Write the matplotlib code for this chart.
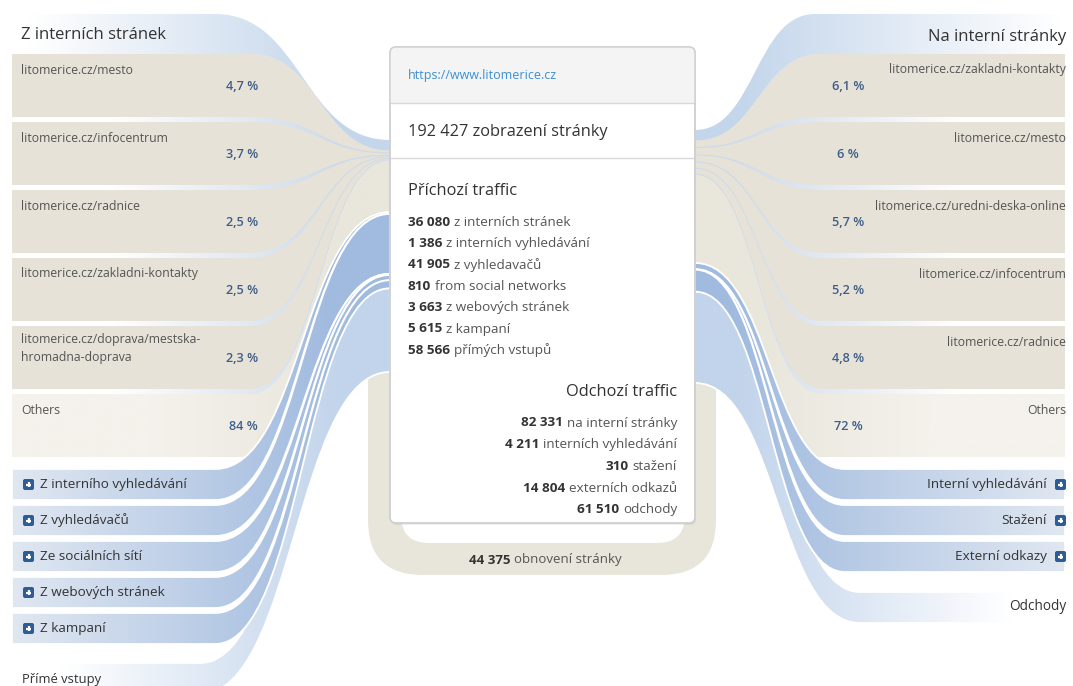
import numpy as np
import matplotlib
matplotlib.use('Agg')
import matplotlib.pyplot as plt
from matplotlib.path import Path
from matplotlib.patches import PathPatch, FancyBboxPatch, Rectangle
from matplotlib.colors import to_rgb

plt.rcParams['font.family'] = ['Open Sans', 'DejaVu Sans']

# --- data -------------------------------------------------------------
page_url = 'https://www.litomerice.cz'
pageviews = 192427
refreshes = 44375

left_pages = ['litomerice.cz/mesto', 'litomerice.cz/infocentrum', 'litomerice.cz/radnice',
              'litomerice.cz/zakladni-kontakty', 'litomerice.cz/doprava/mestska-\nhromadna-doprava',
              'Others']
left_pct = [4.7, 3.7, 2.5, 2.5, 2.3, 84]

right_pages = ['litomerice.cz/zakladni-kontakty', 'litomerice.cz/mesto',
               'litomerice.cz/uredni-deska-online', 'litomerice.cz/infocentrum',
               'litomerice.cz/radnice', 'Others']
right_pct = [6.1, 6, 5.7, 5.2, 4.8, 72]

in_labels = ['Z interního vyhledávání', 'Z vyhledávačů', 'Ze sociálních sítí',
             'Z webových stránek', 'Z kampaní', 'Přímé vstupy']
in_counts = [1386, 41905, 810, 3663, 5615, 58566]
internal_in = 36080

out_labels = ['Interní vyhledávání', 'Stažení', 'Externí odkazy', 'Odchody']
out_counts = [4211, 310, 14804, 61510]
internal_out = 82331

in_text = ['z interních stránek', 'z interních vyhledávání', 'z vyhledavačů',
           'from social networks', 'z webových stránek', 'z kampaní', 'přímých vstupů']
out_text = ['na interní stránky', 'interních vyhledávání', 'stažení',
            'externích odkazů', 'odchody']

# --- colours ----------------------------------------------------------
BEIGE = '#e6e2d7'
BEIGE_LIGHT = '#f4f2ec'
BLUE_LIGHT = '#e0e7f1'
BLUE_DARK = '#a1bbdf'
BLUE_PALE = '#c2d4eb'
SEP_BLUE = '#cddaea'
PCT_COLOR = '#3d5d8a'

fig = plt.figure(figsize=(10.73, 6.86), dpi=100)
ax = fig.add_axes([0, 0, 1, 1])
ax.set_xlim(0, 1073)
ax.set_ylim(686, 0)
ax.axis('off')
renderer = fig.canvas.get_renderer()

M, L, C, Z = Path.MOVETO, Path.LINETO, Path.CURVE4, Path.CLOSEPOLY


def band(x_flat, xa_top, ya_top, xa_bot, ya_bot, xb, yb_top, yb_bot, k=0.5):
    dt = xb - xa_top
    db = xb - xa_bot
    verts = [(x_flat, ya_top), (xa_top, ya_top),
             (xa_top + k * dt, ya_top), (xb - k * dt, yb_top), (xb, yb_top),
             (xb, yb_bot),
             (xb - k * db, yb_bot), (xa_bot + k * db, ya_bot), (xa_bot, ya_bot),
             (x_flat, ya_bot), (x_flat, ya_top)]
    codes = [M, L, C, C, C, L, C, C, C, L, Z]
    return Path(verts, codes)


def grad_fill(path, gx0, gx1, c0, c1, z, outline=None):
    patch = PathPatch(path, facecolor='none', edgecolor='none', zorder=z)
    ax.add_patch(patch)
    ext = path.get_extents()
    xs = np.linspace(ext.x0, ext.x1, 400)
    t = np.clip((xs - gx0) / (gx1 - gx0), 0, 1)[:, None]
    rgb = (1 - t) * np.array(to_rgb(c0)) + t * np.array(to_rgb(c1))
    img = ax.imshow(rgb[None, :, :], extent=(ext.x0, ext.x1, ext.y1, ext.y0),
                    aspect='auto', interpolation='bilinear', zorder=z)
    img.set_clip_path(patch)
    if outline:
        ax.add_patch(PathPatch(path, facecolor='none', edgecolor=outline, lw=1.3, zorder=z + 0.01))


def stack(values, y0, y1):
    v = np.asarray(values, float)
    return y0 + np.concatenate([[0], np.cumsum(v)]) / v.sum() * (y1 - y0)


def fmt(n):
    return f'{n:,}'.replace(',', ' ')


def pct(v):
    return f'{v:g}'.replace('.', ',') + ' %'


def px(disp_x):
    return ax.transData.inverted().transform((disp_x, 0))[0]


def num_text(x, y, num, rest, size, ha='left', z=7):
    gap = 0.27 * size * 100 / 72
    if ha == 'left':
        t1 = ax.text(x, y, fmt(num), fontsize=size, fontweight='bold', color='#333333',
                     ha='left', va='center', zorder=z)
        x1 = px(t1.get_window_extent(renderer).x1)
        ax.text(x1 + gap, y, rest, fontsize=size, color='#555555', ha='left', va='center', zorder=z)
    elif ha == 'right':
        t2 = ax.text(x, y, rest, fontsize=size, color='#555555', ha='right', va='center', zorder=z)
        x0 = px(t2.get_window_extent(renderer).x0)
        ax.text(x0 - gap, y, fmt(num), fontsize=size, fontweight='bold', color='#333333',
                ha='right', va='center', zorder=z)
    else:
        t1 = ax.text(0, y, fmt(num), fontsize=size, fontweight='bold', color='#333333',
                     ha='left', va='center', zorder=z)
        t2 = ax.text(0, y, rest, fontsize=size, color='#555555', ha='left', va='center', zorder=z)
        w1 = t1.get_window_extent(renderer).width
        w2 = t2.get_window_extent(renderer).width
        start = x - (w1 + gap + w2) / 2
        t1.set_x(start)
        t2.set_x(start + w1 + gap)


def icon(x, y):
    ax.add_patch(FancyBboxPatch((x, y - 5.5), 11, 11, boxstyle='round,pad=0,rounding_size=2',
                                fc='#2e5d96', ec='none', zorder=7))
    ax.plot([x + 2.7, x + 8.3], [y, y], color='white', lw=1.6, zorder=8, solid_capstyle='butt')
    ax.plot([x + 5.5, x + 5.5], [y - 2.8, y + 2.8], color='white', lw=1.6, zorder=8,
            solid_capstyle='butt')


# --- geometry ---------------------------------------------------------
BX0, BY0, BX1, BY1 = 390, 47, 695, 523
beige_tops = 54 + 68 * np.arange(6)
beige_h = 63
blue_tops = 469 + 36 * np.arange(5)
blue_h = 31

# --- refresh loop -----------------------------------------------------
ax.add_patch(FancyBboxPatch((368, 330), 348, 245, boxstyle='round,pad=0,rounding_size=55',
                            fc='#e8e5db', ec='none', zorder=1))
ax.add_patch(FancyBboxPatch((401, 380), 284, 163, boxstyle='round,pad=0,rounding_size=28',
                            fc='white', ec='none', zorder=1.1))
num_text(545, 560, refreshes, 'obnovení stránky', 9.5, ha='center')

# --- left side: internal pages ---------------------------------------
le = stack(left_pct, 150, 212)
env = band(12, 250, beige_tops[0], 250, beige_tops[-1] + beige_h, BX0, le[0], le[-1])
grad_fill(env, 110, 340, '#ffffff', SEP_BLUE, 1.5)
title_band = band(12, 215, 14, 250, beige_tops[0], BX0, 140, le[0] + 0.5)
grad_fill(title_band, 30, 340, '#ffffff', '#c4d6eb', 2)

for i, (name, v) in enumerate(zip(left_pages, left_pct)):
    top = beige_tops[i]
    w = le[i + 1] - le[i]
    s = min(0.5, 0.3 * w)
    p = band(12, 250, top, 250, top + beige_h, BX0, le[i] + s, le[i + 1] - s)
    if name == 'Others':
        grad_fill(p, 150, 330, BEIGE_LIGHT, '#e9e6dc', 2.2)
    else:
        ax.add_patch(PathPatch(p, fc=BEIGE, ec='none', zorder=2.2))
    if '\n' in name:
        a, b = name.split('\n')
        ax.text(21, top + 14, a, fontsize=8.8, color='#555555', va='center', zorder=7)
        ax.text(21, top + 32, b, fontsize=8.8, color='#555555', va='center', zorder=7)
    else:
        ax.text(21, top + 16, name, fontsize=8.8, color='#555555', va='center', zorder=7)
    ax.text(258, top + 32, pct(v), fontsize=9.2, fontweight='semibold', color=PCT_COLOR,
            ha='right', va='center', zorder=7)

ax.text(21, 35, 'Z interních stránek', fontsize=12, color='#333333', va='center', zorder=7)

# --- left side: channels ---------------------------------------------
lb = stack(in_counts, 212, 372)
for i, name in enumerate(in_labels):
    if i < 5:
        top = blue_tops[i]
        p = band(12, 215, top, 215, top + blue_h, BX0, lb[i], lb[i + 1])
        grad_fill(p, 12, 330, BLUE_LIGHT, BLUE_DARK, 2.4 + i * 0.02, outline='white')
        icon(23, top + blue_h / 2)
        ax.text(40, top + blue_h / 2, name, fontsize=9.7, color='#333333', va='center', zorder=7)
    else:
        p = band(12, 200, 663, 200, 694, BX0, lb[i], lb[i + 1])
        grad_fill(p, 60, 340, '#ffffff', BLUE_PALE, 2.3, outline='white')
        ax.text(22, 680, name, fontsize=9.4, color='#333333', va='center', zorder=7)

# --- right side: internal pages --------------------------------------
re_ = stack(right_pct, 140, 263)
env = band(1065, 822, beige_tops[0], 822, beige_tops[-1] + beige_h, BX1, re_[0], re_[-1])
grad_fill(env, 960, 730, '#ffffff', SEP_BLUE, 1.5)
title_band = band(1065, 815, 14, 822, beige_tops[0], BX1, 130, re_[0] + 0.5)
grad_fill(title_band, 1060, 740, '#ffffff', '#c4d6eb', 2)

for i, (name, v) in enumerate(zip(right_pages, right_pct)):
    top = beige_tops[i]
    w = re_[i + 1] - re_[i]
    s = min(0.5, 0.3 * w)
    p = band(1065, 822, top, 822, top + beige_h, BX1, re_[i] + s, re_[i + 1] - s)
    if name == 'Others':
        grad_fill(p, 930, 760, BEIGE_LIGHT, '#e9e6dc', 2.2)
    else:
        ax.add_patch(PathPatch(p, fc=BEIGE, ec='none', zorder=2.2))
    ax.text(1066, top + 16, name, fontsize=8.8, color='#555555', ha='right', va='center', zorder=7)
    ax.text(848, top + 32, pct(v), fontsize=9.2, fontweight='semibold', color=PCT_COLOR,
            ha='center', va='center', zorder=7)

ax.text(1066, 37, 'Na interní stránky', fontsize=12, color='#333333', ha='right', va='center', zorder=7)

# --- right side: outgoing channels -----------------------------------
rb = stack(out_counts, 263, 383)
for i, name in enumerate(out_labels):
    if i < 3:
        top = blue_tops[i]
        p = band(1065, 845, top, 845, top + blue_h, BX1, rb[i], rb[i + 1])
        grad_fill(p, 1065, 740, BLUE_LIGHT, BLUE_DARK, 2.4 + i * 0.02, outline='white')
        icon(1055, top + blue_h / 2)
        ax.text(1047, top + blue_h / 2, name, fontsize=9.7, color='#333333', ha='right',
                va='center', zorder=7)
    else:
        p = band(1065, 860, 592, 860, 623, BX1, rb[i], rb[i + 1])
        grad_fill(p, 1010, 740, '#ffffff', BLUE_PALE, 2.3, outline='white')
        ax.text(1066, 607, name, fontsize=9.8, color='#333333', ha='right', va='center', zorder=7)

# --- central box ------------------------------------------------------
ax.add_patch(FancyBboxPatch((BX0 + 1, BY0 + 2), BX1 - BX0, BY1 - BY0,
                            boxstyle='round,pad=0,rounding_size=6', fc='#000000', alpha=0.06,
                            ec='none', zorder=4.5))
box = FancyBboxPatch((BX0, BY0), BX1 - BX0, BY1 - BY0, boxstyle='round,pad=0,rounding_size=6',
                     fc='white', ec='#cfcfcf', lw=1, zorder=5)
ax.add_patch(box)
head = Rectangle((BX0, BY0), BX1 - BX0, 56, fc='#f4f4f4', ec='none', zorder=5.1)
ax.add_patch(head)
head.set_clip_path(box)
ax.plot([BX0, BX1], [103, 103], color='#d9d9d9', lw=1, zorder=5.2)
ax.plot([BX0, BX1], [158, 158], color='#d9d9d9', lw=1, zorder=5.2)
ax.add_patch(FancyBboxPatch((BX0, BY0), BX1 - BX0, BY1 - BY0, boxstyle='round,pad=0,rounding_size=6',
                            fc='none', ec='#cfcfcf', lw=1, zorder=5.3))

ax.text(408, 75, page_url, fontsize=9.0, color='#3b8fd3', va='center', zorder=7)
ax.text(408, 132, f'{fmt(pageviews)} zobrazení stránky', fontsize=11.8, color='#333333',
        va='center', zorder=7)
ax.text(408, 191, 'Příchozí traffic', fontsize=11.8, color='#333333', va='center', zorder=7)
for i, (v, s) in enumerate(zip([internal_in] + in_counts, in_text)):
    num_text(408, 222 + 21.4 * i, v, s, 9.7)
ax.text(677, 392, 'Odchozí traffic', fontsize=11.8, color='#333333', ha='right', va='center', zorder=7)
for i, (v, s) in enumerate(zip([internal_out] + out_counts, out_text)):
    num_text(677, 423 + 21.7 * i, v, s, 9.7, ha='right')

ax.set_xlim(0, 1073)
ax.set_ylim(686, 0)
fig.savefig('out.png', dpi=100, facecolor='white')
